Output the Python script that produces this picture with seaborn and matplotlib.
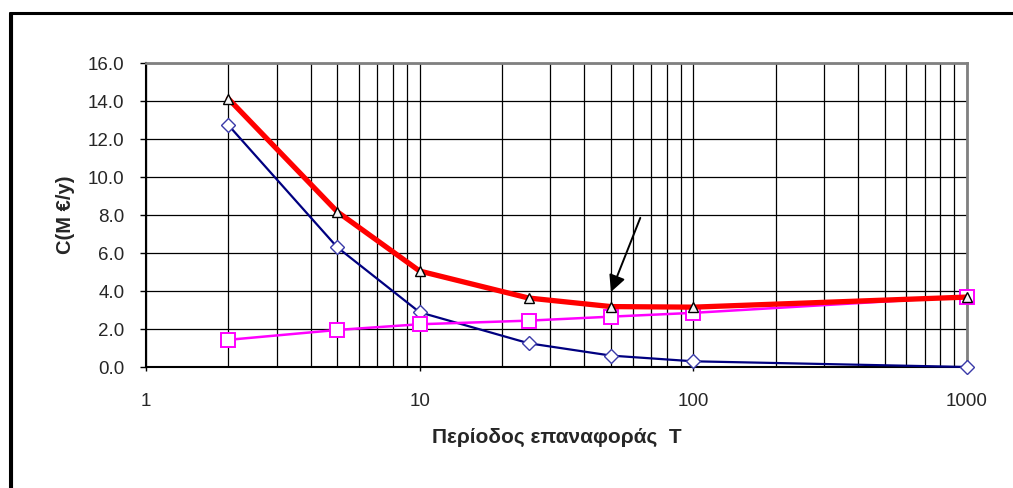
import numpy as np
import pandas as pd
import matplotlib
matplotlib.use("Agg")
import matplotlib.pyplot as plt
from matplotlib.lines import Line2D
from matplotlib.ticker import LogLocator, FixedLocator, NullFormatter, FixedFormatter
import seaborn as sns

# Return period T (years)
return_period = [2, 5, 10, 25, 50, 100, 1000]
# Expected annual damage cost (M€/y)
damage_cost = [12.73, 6.30, 2.88, 1.25, 0.60, 0.30, 0.00]
# Annualised protection-works cost (M€/y)
works_cost = [1.43, 1.95, 2.25, 2.44, 2.65, 2.85, 3.70]
# Total cost (M€/y)
total_cost = [14.12, 8.17, 5.05, 3.63, 3.18, 3.15, 3.68]

y_ticks = [0, 2, 4, 6, 8, 10, 12, 14, 16]
y_tick_labels = ["0.0", "2.0", "4.0", "6.0", "8.0", "10.0", "12.0", "14.0", "16.0"]
x_ticks = [1, 10, 100, 1000]
x_tick_labels = ["1", "10", "100", "1000"]

sns.set_theme(style="white")
plt.rcParams["font.family"] = ["Liberation Sans", "DejaVu Sans"]

fig = plt.figure(figsize=(10.13, 4.88), dpi=100)
ax = fig.add_axes([146 / 1013, 1 - 367 / 488, (967 - 146) / 1013, (367 - 63) / 488])
ax.set_facecolor("white")

ax.set_xscale("log")
ax.set_xlim(1, 1000)
ax.set_ylim(0, 16)

# grid: every log subdivision vertically, every 2 units horizontally
ax.xaxis.set_minor_locator(LogLocator(base=10, subs=np.arange(2, 10), numticks=20))
ax.xaxis.set_major_locator(FixedLocator(x_ticks))
ax.xaxis.set_major_formatter(FixedFormatter(x_tick_labels))
ax.xaxis.set_minor_formatter(NullFormatter())
ax.yaxis.set_major_locator(FixedLocator(y_ticks))
ax.yaxis.set_major_formatter(FixedFormatter(y_tick_labels))
ax.grid(True, which="both", axis="x", color="black", linewidth=0.9)
ax.grid(True, which="major", axis="y", color="black", linewidth=0.9)
ax.set_axisbelow(True)

sns.lineplot(x=return_period, y=damage_cost, ax=ax, color="#000080", linewidth=1.6,
             marker="D", markersize=7, markerfacecolor="white",
             markeredgecolor="#3a3aa8", markeredgewidth=1.0, zorder=3, clip_on=False)
sns.lineplot(x=return_period, y=works_cost, ax=ax, color="#ff00ff", linewidth=1.8,
             marker="s", markersize=9.5, markerfacecolor="white",
             markeredgecolor="#ff00ff", markeredgewidth=1.4, zorder=4, clip_on=False)
sns.lineplot(x=return_period, y=total_cost, ax=ax, color="#ff0000", linewidth=3.8,
             marker="^", markersize=7.5, markerfacecolor="#f4f4f4",
             markeredgecolor="black", markeredgewidth=1.0, zorder=5, clip_on=False)

# arrow marking the optimum
ax.annotate("", xy=(50, 3.95), xytext=(64, 7.85),
            arrowprops=dict(arrowstyle="-|>", color="black", lw=1.4,
                            mutation_scale=25, shrinkA=0, shrinkB=0), zorder=6)

for side in ["top", "right"]:
    ax.spines[side].set_color("#808080")
    ax.spines[side].set_linewidth(2.0)
for side in ["left", "bottom"]:
    ax.spines[side].set_color("black")
    ax.spines[side].set_linewidth(1.5)

ax.tick_params(axis="y", which="major", direction="out", length=4.5, width=1,
               color="black", pad=11, labelsize=13.5, left=True)
ax.tick_params(axis="x", which="major", direction="out", length=3, width=1,
               color="black", pad=16, labelsize=13.5, bottom=True)
ax.tick_params(axis="x", which="minor", length=0)

ax.set_xlabel("Περίοδος επαναφοράς  T", fontsize=15, fontweight="bold", labelpad=13)
ax.set_ylabel("C(M €/y)", fontsize=14.5, fontweight="bold", labelpad=9)

# frame around the figure
fig.add_artist(Line2D([9.5 / 1013, 9.5 / 1013], [1 - 13 / 488, 0], transform=fig.transFigure,
                      color="black", linewidth=2.2))
fig.add_artist(Line2D([12 / 1013, 12 / 1013], [1 - 13 / 488, 0], transform=fig.transFigure,
                      color="black", linewidth=0.8))
fig.add_artist(Line2D([9.5 / 1013, 1], [1 - 13 / 488, 1 - 13 / 488], transform=fig.transFigure,
                      color="black", linewidth=2.2))

fig.savefig("out.png", dpi=100, facecolor="white")
